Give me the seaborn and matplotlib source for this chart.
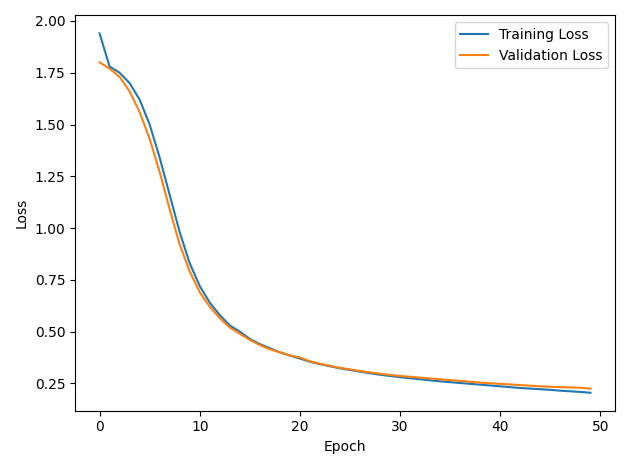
import matplotlib
matplotlib.use("Agg")
import matplotlib.pyplot as plt
import seaborn as sns
import pandas as pd

epochs = list(range(50))
train_loss = [1.94, 1.78, 1.75, 1.70, 1.62, 1.50, 1.34, 1.16, 0.98, 0.83,
              0.72, 0.64, 0.58, 0.53, 0.50, 0.465, 0.44, 0.42, 0.40, 0.385,
              0.37, 0.355, 0.343, 0.333, 0.323, 0.315, 0.307, 0.299, 0.292, 0.286,
              0.280, 0.275, 0.270, 0.265, 0.260, 0.256, 0.252, 0.248, 0.244, 0.240,
              0.236, 0.232, 0.228, 0.225, 0.222, 0.219, 0.215, 0.212, 0.209, 0.205]
val_loss = [1.80, 1.77, 1.73, 1.66, 1.56, 1.43, 1.27, 1.09, 0.92, 0.79,
            0.69, 0.62, 0.565, 0.52, 0.49, 0.46, 0.435, 0.415, 0.40, 0.385,
            0.375, 0.357, 0.345, 0.335, 0.325, 0.318, 0.31, 0.303, 0.297, 0.291,
            0.286, 0.282, 0.278, 0.274, 0.270, 0.266, 0.262, 0.258, 0.254, 0.251,
            0.248, 0.245, 0.242, 0.239, 0.236, 0.234, 0.232, 0.231, 0.229, 0.225]

df = pd.DataFrame({"Epoch": epochs, "Training Loss": train_loss, "Validation Loss": val_loss})
long = df.melt(id_vars="Epoch", var_name="Series", value_name="Loss")

fig, ax = plt.subplots(figsize=(6.3, 4.69), dpi=100)
sns.lineplot(data=long, x="Epoch", y="Loss", hue="Series", ax=ax,
             palette=["#1f77b4", "#ff7f0e"], linewidth=1.5)
ax.legend(title=None, loc="upper right")
ax.set_xlabel("Epoch")
ax.set_ylabel("Loss")
plt.tight_layout()
plt.savefig("out.png")
